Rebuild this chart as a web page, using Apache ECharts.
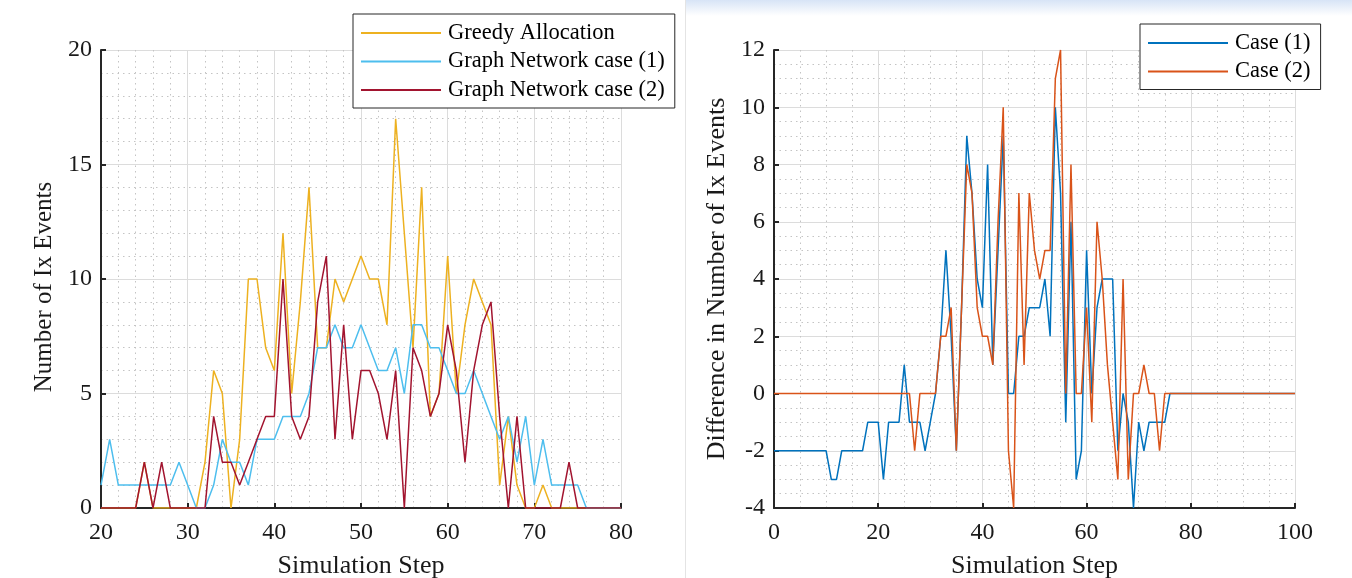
<!DOCTYPE html>
<html>
<head>
<meta charset="utf-8">
<script src="https://cdn.jsdelivr.net/npm/echarts@6/dist/echarts.min.js"></script>
<style>
  html, body { margin: 0; padding: 0; background: #ffffff; }
  #wrap { position: relative; width: 1352px; height: 578px; overflow: hidden; }
  #chart { position: absolute; left: 0; top: 0; width: 1352px; height: 578px; }
  #band { position: absolute; left: 686px; top: 0; width: 666px; height: 16px;
          background: linear-gradient(to bottom, #d7e4f6, #ffffff); }
  #divider { position: absolute; left: 685px; top: 0; width: 1px; height: 578px; background: #e4e4e4; }
</style>
</head>
<body>
<div id="wrap">
  <div id="band"></div>
  <div id="divider"></div>
  <div id="chart"></div>
</div>
<script>
// ---- Left panel data (simulation steps 20..80) ----
const leftStart = 20;
const greedy = [
  0,0,0,0,0,2,0,0,0,0,
  0,0,2,6,5,0,3,10,10,7,
  6,12,5,9,14,7,7,10,9,10,
  11,10,10,8,17,12,7,14,4,5,
  11,5,8,10,9,8,1,4,1,0,
  0,1,0,0,0,0,0,0,0,0,0
];
const gnCase1 = [
  1,3,1,1,1,1,1,1,1,2,
  1,0,0,1,3,2,2,1,3,3,
  3,4,4,4,5,7,7,8,7,7,
  8,7,6,6,7,5,8,8,7,7,
  6,5,5,6,5,4,3,4,2,4,
  1,3,1,1,1,1,0,0,0,0,0
];
const gnCase2 = [
  0,0,0,0,0,2,0,2,0,0,
  0,0,0,4,2,2,1,2,3,4,
  4,10,4,3,4,9,11,3,8,3,
  6,6,5,3,6,0,7,6,4,5,
  8,6,2,6,8,9,4,0,4,0,
  0,0,0,0,2,0,0,0,0,0,0
];
// ---- Right panel data (simulation steps 0..100) ----
const rightStart = 0;
const diffCase1 = [
  -2,-2,-2,-2,-2,-2,-2,-2,-2,-2,
  -2,-3,-3,-2,-2,-2,-2,-2,-1,-1,
  -1,-3,-1,-1,-1,1,-1,-1,-1,-2,
  -1,0,2,5,2,-2,3,9,7,4,
  3,8,1,5,9,0,0,2,2,3,
  3,3,4,2,10,7,-1,6,-3,-2,
  5,0,3,4,4,4,-2,0,-1,-4,
  -1,-2,-1,-1,-1,-1,0,0,0,0,
  0,0,0,0,0,0,0,0,0,0,
  0,0,0,0,0,0,0,0,0,0,0
];
const diffCase2 = [
  0,0,0,0,0,0,0,0,0,0,
  0,0,0,0,0,0,0,0,0,0,
  0,0,0,0,0,0,0,-2,0,0,
  0,0,2,2,3,-2,3,8,7,3,
  2,2,1,6,10,-2,-4,7,1,7,
  5,4,5,5,11,12,0,8,0,0,
  3,-1,6,4,1,-1,-3,4,-3,0,
  0,1,0,0,-2,0,0,0,0,0,
  0,0,0,0,0,0,0,0,0,0,
  0,0,0,0,0,0,0,0,0,0,0
];
const leftNames = ['Greedy Allocation', 'Graph Network case (1)', 'Graph Network case (2)'];
const rightNames = ['Case (1)', 'Case (2)'];
const xTitle = 'Simulation Step';
const leftYTitle = 'Number of Ix Events';
const rightYTitle = 'Difference in Number of Ix Events';

function pairs(arr, start) { return arr.map((v, i) => [start + i, v]); }

const FONT = 'Liberation Serif';
const axisColor = '#262626';
const labelStyle = { fontFamily: FONT, fontSize: 24, color: '#1a1a1a' };

function mkAxis(extra) {
  return Object.assign({
    type: 'value',
    axisLine: { show: true, onZero: false, lineStyle: { color: axisColor, width: 2 } },
    axisTick: { show: true, inside: true, length: 5, lineStyle: { color: axisColor, width: 2 } },
    splitLine: { show: true, lineStyle: { color: '#dcdcdc', width: 1 } },
    minorSplitLine: { show: true, lineStyle: { color: '#c4c4c4', width: 1, type: [1.5, 4] } },
    nameTextStyle: { fontFamily: FONT, fontSize: 26, color: '#1a1a1a' },
    nameLocation: 'middle'
  }, extra);
}

function line(name, data, color, xi, z) {
  return {
    type: 'line', name: name, data: data, xAxisIndex: xi, yAxisIndex: xi,
    symbol: 'none', showSymbol: false, z: z,
    lineStyle: { color: color, width: 1.5 }, itemStyle: { color: color },
    animation: false
  };
}

function mkLegend(names, left, top) {
  return {
    data: names, orient: 'vertical', left: left, top: top,
    padding: [7, 10, 6, 8], itemWidth: 80, itemHeight: 2, itemGap: 4.5,
    icon: 'rect', borderColor: axisColor, borderWidth: 1, backgroundColor: '#ffffff',
    itemStyle: { borderWidth: 0 },
    textStyle: { fontFamily: FONT, fontSize: 22.5, lineHeight: 24, color: '#000', padding: [0, 0, 0, 2] }
  };
}

const chart = echarts.init(document.getElementById('chart'), null, { renderer: 'canvas' });
chart.setOption({
  animation: false,
  backgroundColor: 'transparent',
  grid: [
    { left: 101, top: 50, width: 520, height: 458, containLabel: false, outerBoundsMode: 'none' },
    { left: 774, top: 50, width: 521, height: 458, containLabel: false, outerBoundsMode: 'none' }
  ],
  xAxis: [
    mkAxis({ gridIndex: 0, min: 20, max: 80, interval: 10,
      minorTick: { show: false, splitNumber: 5 },
      axisLabel: Object.assign({ margin: 13 }, labelStyle),
      name: xTitle, nameGap: 45 }),
    mkAxis({ gridIndex: 1, min: 0, max: 100, interval: 20,
      minorTick: { show: false, splitNumber: 4 },
      axisLabel: Object.assign({ margin: 13 }, labelStyle),
      name: xTitle, nameGap: 45 })
  ],
  yAxis: [
    mkAxis({ gridIndex: 0, min: 0, max: 20, interval: 5,
      minorTick: { show: false, splitNumber: 5 },
      axisLabel: Object.assign({ margin: 9 }, labelStyle),
      nameTextStyle: { fontFamily: FONT, fontSize: 25, color: '#1a1a1a', padding: [0, 16, 0, 0] },
      name: leftYTitle, nameGap: 44 }),
    mkAxis({ gridIndex: 1, min: -4, max: 12, interval: 2,
      minorTick: { show: false, splitNumber: 4 },
      axisLabel: Object.assign({ margin: 9 }, labelStyle),
      name: rightYTitle, nameGap: 44 })
  ],
  legend: [
    mkLegend(leftNames, 353, 14),
    mkLegend(rightNames, 1140, 24)
  ],
  series: [
    line(leftNames[0], pairs(greedy, leftStart), '#EDB120', 0, 2),
    line(leftNames[1], pairs(gnCase1, leftStart), '#4DBEEE', 0, 3),
    line(leftNames[2], pairs(gnCase2, leftStart), '#A2142F', 0, 4),
    line(rightNames[0], pairs(diffCase1, rightStart), '#0072BD', 1, 2),
    line(rightNames[1], pairs(diffCase2, rightStart), '#D95319', 1, 3)
  ]
});
</script>
</body>
</html>
